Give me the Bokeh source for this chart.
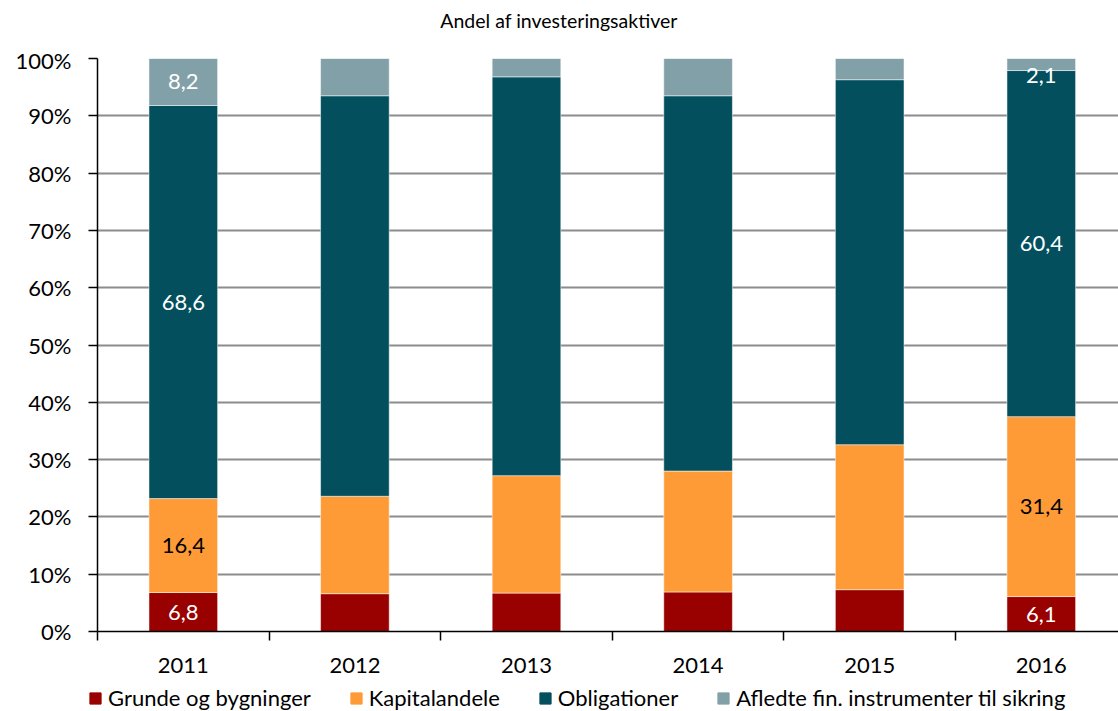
from bokeh.plotting import figure
from bokeh.models import ColumnDataSource, Range1d, FixedTicker, Legend, LegendItem, Label
from bokeh.layouts import column
from bokeh.embed import file_html
from bokeh.resources import INLINE
from bokeh.core.properties import value

years = [2011, 2012, 2013, 2014, 2015, 2016]
grunde = [6.8, 6.6, 6.7, 6.9, 7.3, 6.1]
kapital = [16.4, 17.0, 20.5, 21.1, 25.3, 31.4]
oblig = [68.6, 69.9, 69.6, 65.5, 63.7, 60.4]
afledte = [8.2, 6.5, 3.2, 6.5, 3.7, 2.1]
series_names = ["Grunde og bygninger", "Kapitalandele", "Obligationer", "Afledte fin. instrumenter til sikring"]
keys = ["grunde", "kapital", "oblig", "afledte"]
colors = ["#990000", "#FF9B37", "#034F5E", "#82A0A8"]
y_ticks = [0, 10, 20, 30, 40, 50, 60, 70, 80, 90, 100]
label_years = [2011, 2016]
title_text = "Andel af investeringsaktiver"

FONT = "Lato"
FS = "22px"
W = 1118
H_TOP, H_MAIN, H_LEG = 46, 630, 35

src = ColumnDataSource(dict(x=years, grunde=grunde, kapital=kapital, oblig=oblig, afledte=afledte))


def strip(h, xr, yr):
    f = figure(width=W, height=h, output_backend="svg", toolbar_location=None,
               x_range=xr, y_range=yr, x_axis_type=None, y_axis_type=None)
    f.min_border_left = 0
    f.min_border_right = 0
    f.min_border_top = 0
    f.min_border_bottom = 0
    f.frame_align = False
    f.grid.visible = False
    f.outline_line_color = None
    f.background_fill_color = "white"
    f.border_fill_color = "white"
    return f


# title strip
p0 = strip(H_TOP, Range1d(0, W), Range1d(0, H_TOP))
p0.add_layout(Label(x=558.5, y=H_TOP - 20, text=title_text, text_align="center",
                    text_baseline="middle", text_font=FONT, text_font_size="19.5px",
                    text_color="#000000"))

# main chart
p = figure(width=W, height=H_MAIN, output_backend="svg", toolbar_location=None,
           x_range=Range1d(2010.5, 2016.45), y_range=Range1d(0, 100))
p.min_border_left = 97
p.min_border_right = 0
p.min_border_top = 12
p.min_border_bottom = 45
p.frame_align = False
p.outline_line_color = None
p.background_fill_color = "white"
p.border_fill_color = "white"

renderers = p.vbar_stack(keys, x="x", width=0.4, source=src, color=colors,
                         line_color="white", line_width=0.5)

p.xgrid.visible = False
p.ygrid.ticker = FixedTicker(ticks=y_ticks)
p.ygrid.grid_line_color = "#8c8c8c"
p.ygrid.grid_line_width = 2
p.ygrid.level = "underlay"

ya = p.yaxis[0]
ya.ticker = FixedTicker(ticks=y_ticks)
ya.major_label_overrides = {t: f"{t}%" for t in y_ticks}
ya.major_label_text_font = FONT
ya.major_label_text_font_size = FS
ya.major_label_text_color = "#000000"
ya.axis_line_color = "black"
ya.axis_line_width = 1.5
ya.major_tick_line_color = "black"
ya.major_tick_line_width = 1.5
ya.major_tick_in = 0
ya.major_tick_out = 9
ya.minor_tick_line_color = None
ya.major_label_standoff = 17

xa = p.xaxis[0]
xa.ticker = FixedTicker(ticks=years, minor_ticks=[y - 0.5 for y in years] + [years[-1] + 0.5])
xa.major_label_overrides = {y: str(y) for y in years}
xa.major_label_text_font = FONT
xa.major_label_text_font_size = FS
xa.major_label_text_color = "#000000"
xa.axis_line_color = "black"
xa.axis_line_width = 1.5
xa.major_tick_line_color = None
xa.major_tick_in = 0
xa.major_tick_out = 9
xa.minor_tick_line_color = "black"
xa.minor_tick_line_width = 1.5
xa.minor_tick_in = 0
xa.minor_tick_out = 9
xa.major_label_standoff = 17

lx, ly, lt, lc = [], [], [], []
all_vals = [grunde, kapital, oblig, afledte]
text_cols = ["white", "black", "white", "white"]
for yr in label_years:
    i = years.index(yr)
    base = 0.0
    for s, vals in enumerate(all_vals):
        v = vals[i]
        c = min(base + v / 2.0, 97.0)
        lx.append(yr)
        ly.append(c)
        lt.append(f"{v:.1f}".replace(".", ","))
        lc.append(text_cols[s])
        base += v
lsrc = ColumnDataSource(dict(x=lx, y=ly, t=lt, c=lc))
p.text(x="x", y="y", text="t", text_color="c", source=lsrc, text_align="center",
       text_baseline="middle", text_font=value(FONT), text_font_size=FS)

# legend strip (bars of the same data, outside this strip's visible range)
p2 = strip(H_LEG, Range1d(0, 1), Range1d(0, 1))
leg_r = p2.vbar_stack(keys, x="x", width=0.4, source=src, color=colors, line_color=colors)
legend = Legend(items=[LegendItem(label=n, renderers=[r]) for n, r in zip(series_names, leg_r)],
                orientation="horizontal", location=(88, 0))
legend.label_text_font = FONT
legend.label_text_font_size = FS
legend.label_text_color = "#000000"
legend.glyph_width = 14
legend.glyph_height = 14
legend.label_standoff = 6
legend.spacing = 38
legend.padding = 0
legend.margin = 0
legend.border_line_color = None
legend.background_fill_alpha = 0
p2.add_layout(legend, "center")

open("out.html", "w").write(file_html(column(p0, p, p2, spacing=0), INLINE))
